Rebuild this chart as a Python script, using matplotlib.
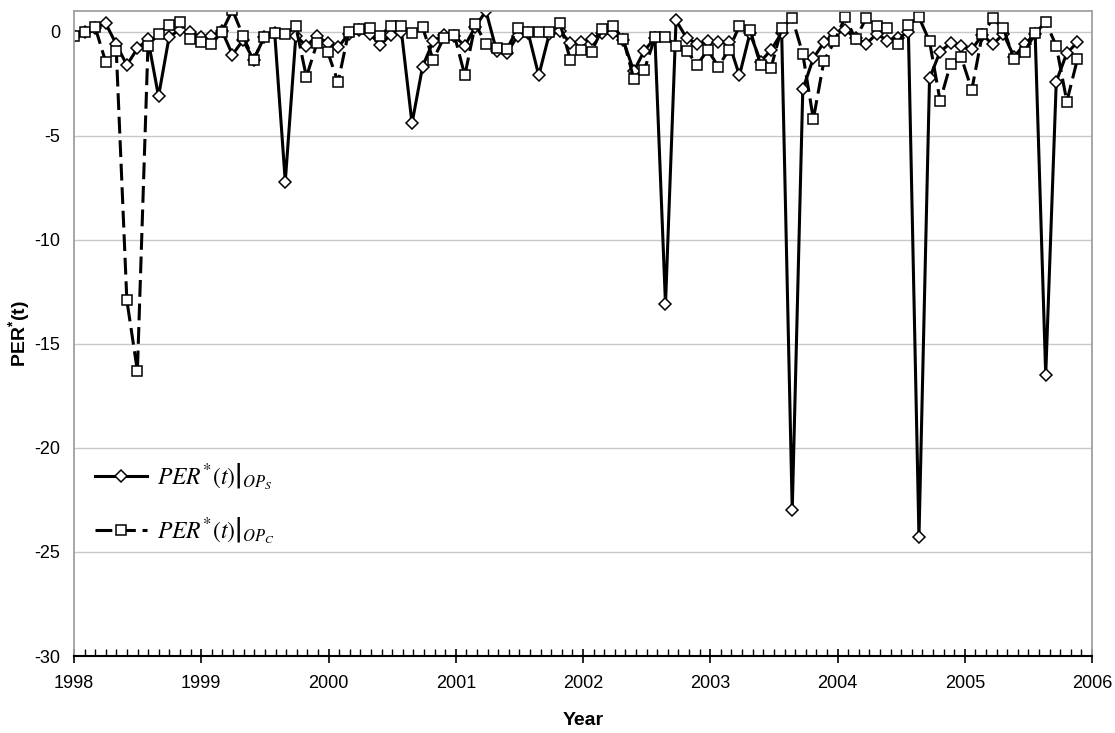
import matplotlib
matplotlib.use("Agg")
import matplotlib.pyplot as plt
from matplotlib.ticker import MultipleLocator
from matplotlib.font_manager import FontProperties
import numpy as np

# monthly values, Jan 1998 .. Dec 2005
per_ops = [-0.2, 0.0, 0.2, 0.4, -0.6, -1.6, -0.8, -0.35, -3.1, -0.25, 0.1, 0.0,
           -0.25, -0.2, 0.05, -1.1, -0.4, -1.35, -0.26, -0.07, -7.2, -0.2, -0.67, -0.2,
           -0.55, -0.75, -0.1, 0.1, -0.1, -0.62, -0.14, 0.0, -4.4, -1.67, -0.46, -0.14,
           -0.2, -0.67, 0.25, 1.0, -0.9, -1.0, -0.2, -0.05, -2.1, -0.1, 0.05, -0.55,
           -0.5, -0.35, -0.07, -0.05, -0.4, -1.9, -0.9, -0.3, -13.1, 0.55, -0.3, -0.58,
           -0.46, -0.51, -0.51, -2.1, -0.06, -1.43, -0.87, -0.05, -23.0, -2.76, -1.27, -0.51,
           -0.07, 0.1, -0.3, -0.58, -0.1, -0.42, -0.3, -0.02, -24.3, -2.23, -0.95, -0.55,
           -0.7, -0.85, -0.15, -0.6, -0.1, -1.2, -0.6, -0.1, -16.5, -2.39, -1.02, -0.51]

per_opc = [-0.22, 0.0, 0.22, -1.45, -0.9, -12.9, -16.3, -0.66, -0.1, 0.33, 0.47, -0.34,
           -0.5, -0.6, 0.0, 1.05, -0.2, -1.35, -0.26, -0.07, -0.1, 0.26, -2.17, -0.55,
           -0.95, -2.42, 0.0, 0.14, 0.18, -0.19, 0.3, 0.26, -0.07, 0.22, -1.35, -0.3,
           -0.14, -2.1, 0.38, -0.6, -0.79, -0.83, 0.18, 0.0, -0.02, 0.0, 0.42, -1.35,
           -0.87, -0.95, 0.13, 0.29, -0.35, -2.26, -1.83, -0.26, -0.26, -0.67, -0.9, -1.59,
           -0.87, -1.67, -0.87, 0.29, 0.1, -1.59, -1.72, 0.18, 0.66, -1.06, -4.2, -1.4,
           -0.46, 0.7, -0.35, 0.66, 0.26, 0.18, -0.58, 0.34, 0.7, -0.46, -3.32, -1.54,
           -1.22, -2.79, -0.12, 0.64, 0.16, -1.32, -0.95, -0.08, 0.48, -0.68, -3.35, -1.32]

years = [1998, 1999, 2000, 2001, 2002, 2003, 2004, 2005, 2006]

plt.rcParams["font.family"] = ["Liberation Sans", "DejaVu Sans"]
plt.rcParams["axes.unicode_minus"] = False
plt.rcParams["mathtext.fontset"] = "custom"
plt.rcParams["mathtext.rm"] = "Liberation Sans"
plt.rcParams["mathtext.bf"] = "Liberation Sans:bold"
plt.rcParams["mathtext.it"] = "Liberation Sans:italic"

t = 1998 + np.arange(len(per_ops)) * 0.083

fig = plt.figure(figsize=(11.15, 7.33), dpi=100)
ax = fig.add_axes([0.0664, 0.105, 0.913, 0.880])

ax.plot(t, per_ops, color="black", lw=2.2, marker="D", ms=6,
        mfc="white", mec="black", mew=1.1,
        label=r"$\left.PER^{*}\left(t\right)\right|_{OP_S}$")
ax.plot(t, per_opc, color="black", lw=2.2, marker="s", ms=7.5,
        mfc="white", mec="black", mew=1.1, dashes=(5.5, 2.2),
        label=r"$\left.PER^{*}\left(t\right)\right|_{OP_C}$")

ax.set_xlim(1998, 2006)
ax.set_ylim(-30, 1)
ax.set_xticks(years)
ax.set_xticklabels([str(y) for y in years], fontsize=13)
ax.xaxis.set_minor_locator(MultipleLocator(1 / 12))
ax.set_yticks(np.arange(-30, 1, 5))
ax.tick_params(axis="y", labelsize=13, length=0, pad=10)
ax.tick_params(axis="x", which="major", direction="inout", length=10, width=1.2, pad=9)
ax.tick_params(axis="x", which="minor", direction="in", length=5, width=1.0)

ax.grid(axis="y", color="#c8c8c8", lw=1)
for side in ["left", "right", "top"]:
    ax.spines[side].set_color("#a0a0a0")
    ax.spines[side].set_linewidth(1.3)
ax.spines["bottom"].set_color("black")
ax.spines["bottom"].set_linewidth(1.5)

ax.set_xlabel("Year", fontsize=14, fontweight="bold", labelpad=14)
ax.set_ylabel(r"$\mathbf{PER^{*}(t)}$", fontsize=14, fontweight="bold")
ax.yaxis.set_label_coords(-0.041, 0.5)

leg = ax.legend(loc="upper left", bbox_to_anchor=(0.0, 0.335), frameon=False,
                prop=FontProperties(size=17, math_fontfamily="stix"),
                handlelength=2.2, labelspacing=1.0, handletextpad=0.4)

fig.savefig("out.png", dpi=100)
